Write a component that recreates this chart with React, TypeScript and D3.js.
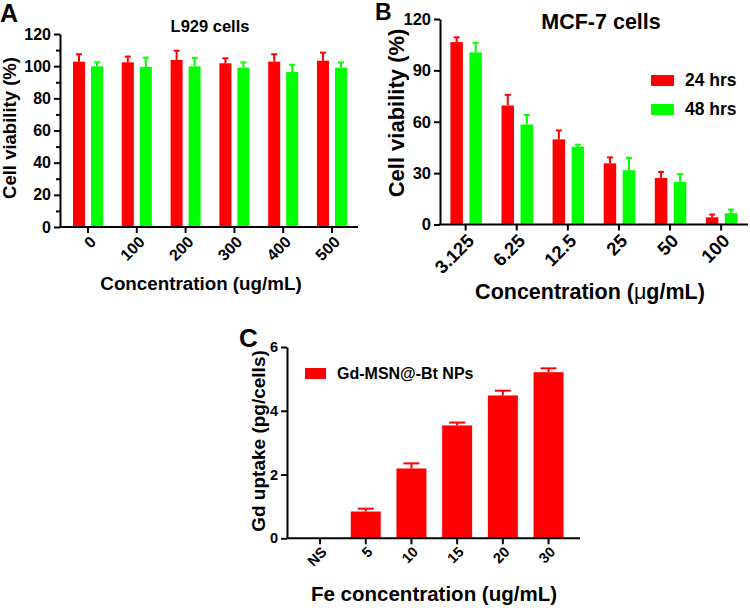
import React, { useRef, useEffect } from 'react';
import * as d3 from 'd3';

const RED = '#ff0000';
const GREEN = '#00ff00';
const FONT = "Arial, 'Liberation Sans', Helvetica, sans-serif";

// Panel A - L929 cells
const l929Conc = ['0', '100', '200', '300', '400', '500'];
const l929Day1 = [102.8, 102.4, 103.9, 101.8, 102.8, 103.4];
const l929Day1Err = [4.6, 3.6, 5.7, 3.1, 4.6, 5.0];
const l929Day2 = [99.9, 99.5, 99.9, 99.1, 96.4, 99.1];
const l929Day2Err = [2.5, 5.8, 5.2, 3.2, 4.5, 3.2];
const l929Ticks = [0, 20, 40, 60, 80, 100, 120];
const l929Minor = [10, 30, 50, 70, 90, 110];

// Panel B - MCF-7 cells
const mcfConc = ['3.125', '6.25', '12.5', '25', '50', '100'];
const mcf24 = [106.5, 69.5, 49.7, 35.7, 27.2, 4.2];
const mcf24Err = [2.8, 6.2, 5.2, 3.5, 3.5, 1.6];
const mcf48 = [100.5, 58.4, 45.4, 31.7, 24.9, 6.6];
const mcf48Err = [5.6, 5.6, 1.2, 7.2, 4.5, 2.1];
const mcfTicks = [0, 30, 60, 90, 120];
const mcfLegend = ['24 hrs', '48 hrs'];

// Panel C - Gd uptake
const feConc = ['NS', '5', '10', '15', '20', '30'];
const gdUptake = [0, 0.84, 2.19, 3.54, 4.48, 5.21];
const gdUptakeErr = [0, 0.09, 0.16, 0.09, 0.15, 0.12];
const gdTicks = [0, 2, 4, 6];
const gdLegend = 'Gd-MSN@-Bt NPs';

const drawPanel = (svg, cfg) => {
  const g = svg.append('g');

  const x = d3.scaleBand().domain(cfg.categories).range(cfg.band);
  const y = d3.scaleLinear().domain([0, cfg.yMax]).range([cfg.y0, cfg.y1]);

  // bars + upper error bars
  const n = cfg.series.length;
  cfg.series.forEach((s, i) => {
    const offset = n === 1
      ? -cfg.barWidth / 2
      : (i === 0 ? -cfg.gap / 2 - cfg.barWidth : cfg.gap / 2) + (cfg.shift || 0);
    const rows = cfg.categories.map((c, k) => ({ c, v: s.values[k], e: s.errors[k] }));
    const cx = d => x(d.c) + x.bandwidth() / 2 + offset;

    g.selectAll(null)
      .data(rows)
      .enter()
      .append('rect')
      .attr('x', cx)
      .attr('y', d => y(d.v))
      .attr('width', cfg.barWidth)
      .attr('height', d => y(0) - y(d.v))
      .style('fill', s.color);

    const err = rows.filter(d => d.e > 0);
    g.selectAll(null)
      .data(err)
      .enter()
      .append('line')
      .attr('x1', d => cx(d) + cfg.barWidth / 2)
      .attr('x2', d => cx(d) + cfg.barWidth / 2)
      .attr('y1', d => y(d.v))
      .attr('y2', d => y(d.v + d.e))
      .style('stroke', s.color)
      .style('stroke-width', 2);
    g.selectAll(null)
      .data(err)
      .enter()
      .append('line')
      .attr('x1', d => cx(d) + cfg.barWidth / 2 - cfg.cap)
      .attr('x2', d => cx(d) + cfg.barWidth / 2 + cfg.cap)
      .attr('y1', d => y(d.v + d.e))
      .attr('y2', d => y(d.v + d.e))
      .style('stroke', s.color)
      .style('stroke-width', 2);
  });

  // y axis
  const yAxis = g
    .append('g')
    .attr('transform', `translate(${cfg.x0},0)`)
    .call(
      d3.axisLeft(y)
        .tickValues(cfg.yTicks)
        .tickFormat(d3.format('d'))
        .tickSize(6)
        .tickSizeOuter(0)
        .tickPadding(3)
    );
  if (cfg.minor) {
    g.append('g')
      .attr('transform', `translate(${cfg.x0},0)`)
      .call(d3.axisLeft(y).tickValues(cfg.minor).tickSize(4).tickFormat(() => ''))
      .call(a => a.select('.domain').remove())
      .selectAll('line')
      .style('stroke-width', 2);
  }
  yAxis.select('.domain').style('stroke-width', 2);
  yAxis.selectAll('line').style('stroke-width', 2);
  yAxis
    .selectAll('text')
    .style('font-family', FONT)
    .style('font-weight', 'bold')
    .style('font-size', `${cfg.tickFont}px`)
    .style('fill', '#000');

  // x axis
  const xAxis = g
    .append('g')
    .attr('transform', `translate(0,${cfg.y0})`)
    .call(d3.axisBottom(x).tickSize(6).tickSizeOuter(0));
  xAxis.select('.domain').remove();
  xAxis.selectAll('line').style('stroke-width', 2);
  xAxis
    .selectAll('text')
    .attr('x', 0)
    .attr('y', 0)
    .attr('dy', '0.35em')
    .attr('transform', `translate(${cfg.labelShift[0]},${cfg.labelShift[1]}) rotate(-45)`)
    .style('text-anchor', 'end')
    .style('font-family', FONT)
    .style('font-weight', 'bold')
    .style('font-size', `${cfg.xLabelFont}px`)
    .style('fill', '#000');
  g.append('line')
    .attr('x1', cfg.x0 - 1)
    .attr('x2', cfg.x1)
    .attr('y1', cfg.y0)
    .attr('y2', cfg.y0)
    .style('stroke', '#000')
    .style('stroke-width', 2);

  return { x, y };
};

const addText = (svg, txt, xPos, yPos, size, opts = {}) =>
  svg
    .append('text')
    .attr('transform', `translate(${xPos},${yPos})${opts.rotate ? ' rotate(-90)' : ''}`)
    .attr('text-anchor', opts.anchor || 'middle')
    .style('font-family', FONT)
    .style('font-weight', 'bold')
    .style('font-size', `${size}px`)
    .style('fill', '#000')
    .text(txt);

const App = () => {
  const svgRef = useRef(null);

  useEffect(() => {
    const svg = d3.select(svgRef.current);
    svg.selectAll('*').remove();

    // ---------- A ----------
    drawPanel(svg, {
      categories: l929Conc,
      series: [
        { values: l929Day1, errors: l929Day1Err, color: RED },
        { values: l929Day2, errors: l929Day2Err, color: GREEN },
      ],
      yMax: 120, yTicks: l929Ticks, minor: l929Minor,
      x0: 60, x1: 358, y0: 227, y1: 34, band: [63.6, 356.4],
      barWidth: 12, gap: 6, cap: 3,
      tickFont: 16, xLabelFont: 16, labelShift: [5, 12],
    });
    addText(svg, 'A', 0, 22, 25, { anchor: 'start' });
    addText(svg, 'L929 cells', 210, 32, 16.5);
    addText(svg, 'Cell viability (%)', 16, 128, 18.5, { rotate: true });
    addText(svg, 'Concentration (ug/mL)', 201, 290, 18.8);

    // ---------- B ----------
    drawPanel(svg, {
      categories: mcfConc,
      series: [
        { values: mcf24, errors: mcf24Err, color: RED },
        { values: mcf48, errors: mcf48Err, color: GREEN },
      ],
      yMax: 120, yTicks: mcfTicks,
      x0: 440, x1: 748, y0: 224.5, y1: 19, band: [440.1, 746.7],
      barWidth: 12.5, gap: 6.5, shift: 0.5, cap: 3,
      tickFont: 16.5, xLabelFont: 18.5, labelShift: [5, 13],
    });
    addText(svg, 'B', 375, 20, 23, { anchor: 'start' });
    addText(svg, 'MCF-7 cells', 601, 29, 21.5);
    addText(svg, 'Cell viability (%)', 404, 113, 22, { rotate: true });
    const bTitle = addText(svg, '', 590, 299, 21.5);
    bTitle.append('tspan').text('Concentration (');
    bTitle.append('tspan').style('font-weight', 'normal').text('μ');
    bTitle.append('tspan').text('g/mL)');

    [RED, GREEN].forEach((c, i) => {
      svg.append('rect')
        .attr('x', 651).attr('y', 75 + i * 29)
        .attr('width', 23).attr('height', 11)
        .style('fill', c);
      addText(svg, mcfLegend[i], 685, 86 + i * 29, 17.5, { anchor: 'start' });
    });

    // ---------- C ----------
    drawPanel(svg, {
      categories: feConc,
      series: [{ values: gdUptake, errors: gdUptakeErr, color: RED }],
      yMax: 6, yTicks: gdTicks,
      x0: 287, x1: 580, y0: 538.3, y1: 347, band: [297.2, 571.4],
      barWidth: 30, gap: 0, cap: 8,
      tickFont: 14.5, xLabelFont: 14.5, labelShift: [4, 11],
    });
    addText(svg, 'C', 239, 347, 26, { anchor: 'start' });
    addText(svg, 'Gd uptake (pg/cells)', 265, 441, 19, { rotate: true });
    addText(svg, 'Fe concentration (ug/mL)', 434, 601, 20.5);
    svg.append('rect')
      .attr('x', 305).attr('y', 368)
      .attr('width', 21).attr('height', 11)
      .style('fill', RED);
    addText(svg, gdLegend, 337, 379, 16, { anchor: 'start' });
  }, []);

  return (
    <svg
      ref={svgRef}
      width={750}
      height={608}
      style={{ position: 'absolute', left: 0, top: 0, background: '#fff' }}
    />
  );
};

export default App;
